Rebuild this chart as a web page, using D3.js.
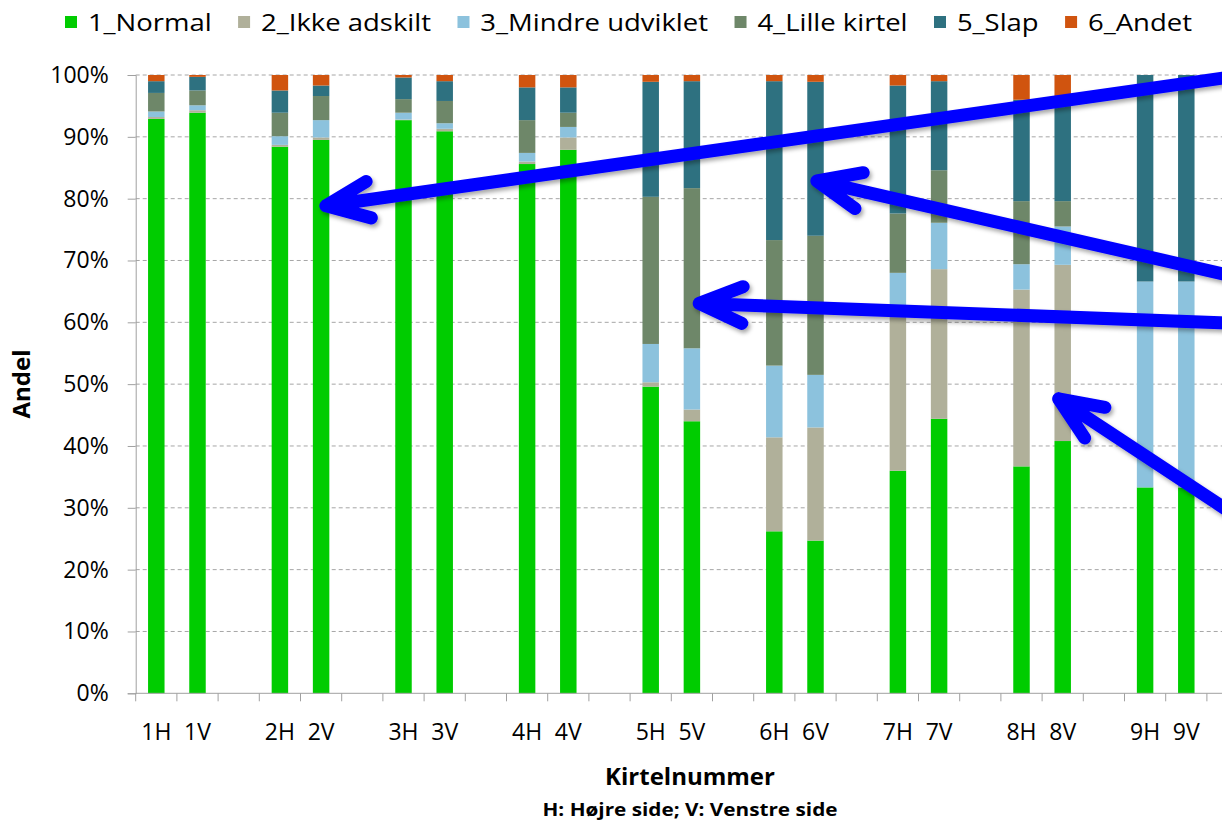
<!DOCTYPE html>
<html>
<head>
<meta charset="utf-8">
<script src="https://cdn.jsdelivr.net/npm/d3@7"></script>
<style>
  body { margin: 0; background: #fff; }
  svg { display: block; font-family: "Open Sans", sans-serif; }
</style>
</head>
<body>
<svg id="chart" width="1222" height="824"></svg>
<script>
// Kirtel positions, with an empty slot after each H/V pair
const slots = ["1H","1V","g1","2H","2V","g2","3H","3V","g3","4H","4V","g4","5H","5V","g5",
               "6H","6V","g6","7H","7V","g7","8H","8V","g8","9H","9V","g9"];
const kirtler = ["1H","1V","2H","2V","3H","3V","4H","4V","5H","5V","6H","6V","7H","7V","8H","8V","9H","9V"];

// percentages
const normal = [92.9,93.9,88.4,89.5,92.7,90.9,85.6,87.9,49.6,44.0,26.2,24.7,36.0,44.4,36.7,40.8,33.3,33.3];
const ikkeAdskilt = [0.3,0.4,0.3,0.4,0.1,0.4,0.4,2.0,0.7,1.9,15.2,18.3,25.5,24.2,28.6,28.5,0,0];
const mindreUdviklet = [0.9,0.8,1.4,2.8,1.1,0.9,1.4,1.7,6.2,9.9,11.6,8.5,6.5,7.5,4.1,6.2,33.3,33.3];
const lilleKirtel = [3.0,2.4,3.8,3.9,2.2,3.6,5.3,2.3,23.8,25.9,20.3,22.5,9.6,8.5,10.2,4.1,0,0];
const slap = [1.9,2.2,3.6,1.7,3.5,3.2,5.3,4.1,18.6,17.3,25.7,24.9,20.7,14.4,16.4,16.7,33.4,33.4];
const andet = [1.0,0.3,2.5,1.7,0.4,1.0,2.0,2.0,1.1,1.0,1.0,1.1,1.7,1.0,4.0,3.7,0,0];

const seriesNames = ["1_Normal","2_Ikke adskilt","3_Mindre udviklet","4_Lille kirtel","5_Slap","6_Andet"];
const seriesValues = [normal, ikkeAdskilt, mindreUdviklet, lilleKirtel, slap, andet];
const colors = ["#00cc00","#b0b09a","#8cc2dd","#6e8769","#2e7180","#d0540f"];
const yTicks = [0,10,20,30,40,50,60,70,80,90,100];

// blue annotation arrows: tip at (slot index, %), tail off to the right
const arrowTip = [[4.46,78.7],[16.38,83.1],[13.52,63.1],[22.27,48.2]];
const arrowTail = [[26.8,99.9],[26.8,67.2],[26.8,59.8],[26.8,28.3]];

const svg = d3.select("#chart");
const margin = {left: 135.7, top: 75, bottom: 693.3};
const step = 41.2;

const x = d3.scaleBand()
    .domain(slots)
    .range([margin.left, margin.left + step * slots.length])
    .paddingInner(0.6)
    .paddingOuter(0.3);
const xi = d3.scaleLinear().domain([0, slots.length]).range(x.range());
const y = d3.scaleLinear().domain([0, 100]).range([margin.bottom, margin.top]);

// table for the stack
const table = kirtler.map((k, i) => {
    const row = {kirtel: k};
    seriesNames.forEach((s, j) => row[s] = seriesValues[j][i]);
    return row;
});
const stacked = d3.stack().keys(seriesNames)(table);

// gridlines
svg.append("g")
    .selectAll("line")
    .data(yTicks.slice(1))
    .join("line")
    .attr("x1", margin.left)
    .attr("x2", 1222)
    .attr("y1", d => y(d))
    .attr("y2", d => y(d))
    .attr("stroke", "#a6a6a6")
    .attr("stroke-width", 1)
    .attr("stroke-dasharray", "4,3");

// bars
svg.append("g")
    .selectAll("g")
    .data(stacked)
    .join("g")
    .attr("fill", (d, i) => colors[i])
    .selectAll("rect")
    .data(d => d)
    .join("rect")
    .attr("x", d => x(d.data.kirtel))
    .attr("width", x.bandwidth())
    .attr("y", d => y(d[1]))
    .attr("height", d => y(d[0]) - y(d[1]));

// y axis
const yAxis = svg.append("g")
    .attr("transform", `translate(${margin.left},0)`)
    .call(d3.axisLeft(y).tickValues(yTicks).tickFormat(d => d + "%").tickSize(8).tickPadding(19));
yAxis.select(".domain").attr("stroke", "#a0a0a0");
yAxis.selectAll(".tick line").attr("stroke", "#a0a0a0");
yAxis.selectAll(".tick text")
    .attr("font-family", "Open Sans")
    .attr("font-size", 23)
    .attr("fill", "#000");

// x axis: ticks on the slot boundaries
const xAxis = svg.append("g")
    .attr("transform", `translate(0,${margin.bottom})`);
xAxis.append("line")
    .attr("x1", margin.left).attr("x2", 1222)
    .attr("stroke", "#a0a0a0");
xAxis.selectAll(".bt")
    .data(d3.range(slots.length + 1))
    .join("line")
    .attr("class", "bt")
    .attr("x1", d => xi(d)).attr("x2", d => xi(d))
    .attr("y1", 0).attr("y2", 8)
    .attr("stroke", "#a0a0a0");
xAxis.selectAll("text")
    .data(kirtler)
    .join("text")
    .attr("x", d => x(d) + x.bandwidth() / 2)
    .attr("y", 47)
    .attr("text-anchor", "middle")
    .attr("font-size", 23)
    .text(d => d);

// axis titles
svg.append("text")
    .attr("x", 690).attr("y", 785)
    .attr("text-anchor", "middle")
    .attr("font-weight", "bold")
    .attr("font-size", 24)
    .text("Kirtelnummer");
svg.append("text")
    .attr("x", 690).attr("y", 816)
    .attr("text-anchor", "middle")
    .attr("font-weight", "bold")
    .attr("font-size", 17)
    .attr("textLength", 295)
    .attr("lengthAdjust", "spacingAndGlyphs")
    .text("H: Højre side; V: Venstre side");
svg.append("text")
    .attr("transform", "translate(30,384) rotate(-90)")
    .attr("text-anchor", "middle")
    .attr("font-weight", "bold")
    .attr("font-size", 24)
    .text("Andel");

// legend, laid out in a row then stretched to the reference width
const legend = svg.append("g").attr("transform", "translate(65,0)");
let lx = 0;
const items = legend.selectAll("g")
    .data(seriesNames)
    .join("g");
items.append("text")
    .attr("y", 31)
    .attr("font-size", 24)
    .text(d => d);
items.each(function(d, i) {
    const g = d3.select(this);
    const w = g.select("text").node().getComputedTextLength();
    g.attr("transform", `translate(${lx},0)`);
    g.select("text").attr("x", 20);
    lx += 20 + w + (i < seriesNames.length - 1 ? 23 : 0);
});
const sx = (1192 - 65) / lx;
legend.attr("transform", `translate(65,0) scale(${sx},1)`);
items.append("rect")
    .attr("x", 0).attr("y", 16)
    .attr("width", 12 / sx).attr("height", 12)
    .attr("fill", (d, i) => colors[i]);

// arrows
const defs = svg.append("defs");
defs.append("filter")
    .attr("id", "shadow")
    .attr("x", "-20%").attr("y", "-20%").attr("width", "140%").attr("height", "140%")
    .append("feDropShadow")
    .attr("dx", 2).attr("dy", 3).attr("stdDeviation", 2)
    .attr("flood-color", "#000").attr("flood-opacity", 0.35);

const strokeW = 13;
const armLen = 47;
const armAngle = 23 * Math.PI / 180;
svg.append("g")
    .attr("filter", "url(#shadow)")
    .selectAll("path")
    .data(arrowTip.map((t, i) => ({tip: t, tail: arrowTail[i]})))
    .join("path")
    .attr("d", d => {
        let tx = xi(d.tip[0]), ty = y(d.tip[1]);
        const ex = xi(d.tail[0]), ey = y(d.tail[1]);
        const a = Math.atan2(ey - ty, ex - tx);
        // the visible point is the rounded cap, so move the path end back by half the stroke
        tx += Math.cos(a) * strokeW / 2;
        ty += Math.sin(a) * strokeW / 2;
        const a1 = [tx + armLen * Math.cos(a - armAngle), ty + armLen * Math.sin(a - armAngle)];
        const a2 = [tx + armLen * Math.cos(a + armAngle), ty + armLen * Math.sin(a + armAngle)];
        return `M${ex},${ey}L${tx},${ty}M${a1[0]},${a1[1]}L${tx},${ty}L${a2[0]},${a2[1]}`;
    })
    .attr("fill", "none")
    .attr("stroke", "#0000ff")
    .attr("stroke-width", strokeW)
    .attr("stroke-linecap", "round")
    .attr("stroke-linejoin", "round");
</script>
</body>
</html>
